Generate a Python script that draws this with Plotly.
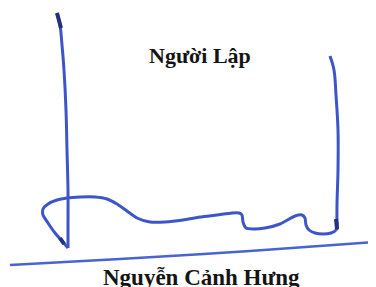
import plotly.graph_objects as go

# Signature stroke points (pixel-space coordinates)
left_stem_x = [57, 60, 62, 64, 66, 67, 68, 68, 68]
left_stem_y = [13, 25, 45, 70, 110, 150, 190, 225, 248]

loop_x = [68, 62, 55, 48, 43, 43, 48, 57, 67, 80, 95, 107, 117, 127, 137, 150, 165, 183, 200, 217, 232, 239, 242, 243, 246, 253, 265, 280, 295, 302, 305, 306, 309, 315, 323, 331, 336, 337]
loop_y = [248, 241, 233, 223, 215, 209, 204, 200, 198, 197, 197, 199, 204, 211, 218, 222, 222, 220, 217, 215, 213, 213, 215, 222, 228, 229, 228, 224, 216, 215, 218, 225, 230, 233, 234, 233, 230, 222]

right_stem_x = [330, 334, 336, 338, 338, 337, 337]
right_stem_y = [56, 70, 95, 130, 170, 205, 230]

rule_x = [10, 120, 250, 376]
rule_y = [265, 259, 251, 242]

tip_x = [57, 59, 61, None, 60, 64, None, 336, 337]
tip_y = [13, 20, 28, None, 238, 244, None, 219, 229]

title_text = "Người Lập"
name_text = "Nguyễn Cảnh Hưng"

INK = "#3d55c9"
DARK = "#23307a"

fig = go.Figure()
fig.add_trace(go.Scatter(x=rule_x, y=rule_y, mode="lines",
                         line=dict(color="#4664d2", width=2.5, shape="spline"), hoverinfo="skip"))
fig.add_trace(go.Scatter(x=left_stem_x, y=left_stem_y, mode="lines",
                         line=dict(color=INK, width=3, shape="spline"), hoverinfo="skip"))
fig.add_trace(go.Scatter(x=loop_x, y=loop_y, mode="lines",
                         line=dict(color=INK, width=3, shape="spline", smoothing=0.6), hoverinfo="skip"))
fig.add_trace(go.Scatter(x=right_stem_x, y=right_stem_y, mode="lines",
                         line=dict(color=INK, width=3, shape="spline"), hoverinfo="skip"))
fig.add_trace(go.Scatter(x=tip_x, y=tip_y, mode="lines",
                         line=dict(color=DARK, width=4), connectgaps=False, hoverinfo="skip"))

fig.add_annotation(x=200, y=55, text=title_text, showarrow=False,
                   font=dict(family="Liberation Serif", size=22, color="#141414", weight="bold"),
                   xref="x", yref="y")
fig.add_annotation(x=201, y=277, text=name_text, showarrow=False,
                   font=dict(family="Liberation Serif", size=23, color="#141414", weight="bold"),
                   xref="x", yref="y")

# The page body has an 8px margin: size the figure to fill the rest of the window
fig.update_layout(width=368, height=279, margin=dict(l=0, r=0, t=0, b=0),
                  paper_bgcolor="white", plot_bgcolor="white", showlegend=False)
fig.update_xaxes(range=[8, 376], visible=False, fixedrange=True)
fig.update_yaxes(range=[287, 8], visible=False, fixedrange=True)

fig.write_html("out.html")
